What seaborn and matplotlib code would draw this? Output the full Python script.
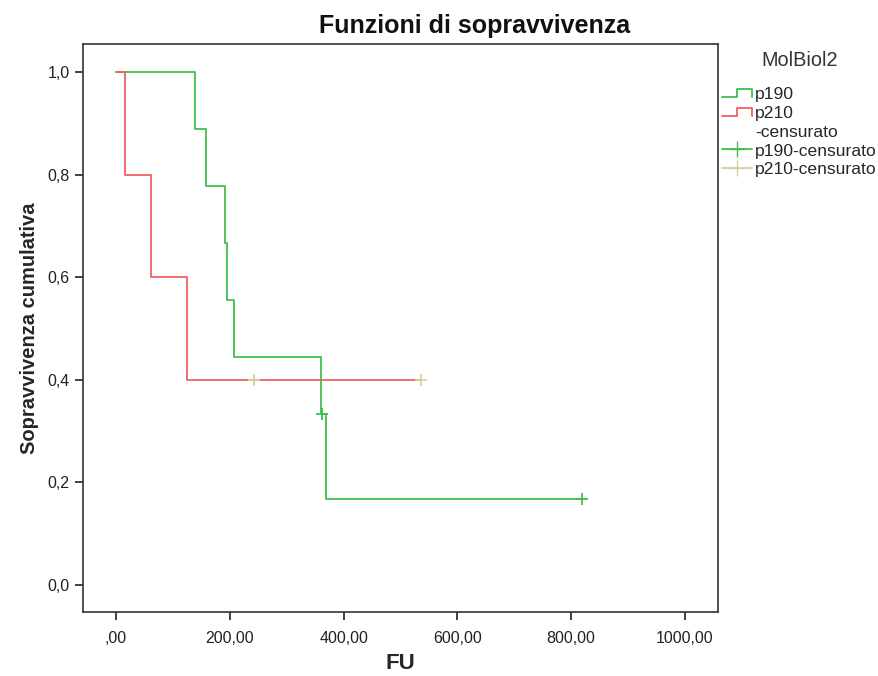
import numpy as np
import pandas as pd
import matplotlib
matplotlib.use("Agg")
import matplotlib.pyplot as plt
import seaborn as sns
from matplotlib.lines import Line2D
from matplotlib.legend_handler import HandlerBase

# ---- data ----
groups = ["p190", "p210"]
p190_times = [139, 158, 192, 195, 207, 360, 362, 369, 819]
p190_event = [1, 1, 1, 1, 1, 1, 0, 1, 0]
p210_times = [16, 61, 125, 242, 536]
p210_event = [1, 1, 1, 0, 0]
x_ticks = [0, 200, 400, 600, 800, 1000]
x_ticklabels = [",00", "200,00", "400,00", "600,00", "800,00", "1000,00"]
y_ticks = [0.0, 0.2, 0.4, 0.6, 0.8, 1.0]
y_ticklabels = ["0,0", "0,2", "0,4", "0,6", "0,8", "1,0"]

colors = {"p190": "#3fbf4f", "p210": "#f06060"}
cens_colors = {"p190": "#3fbf4f", "p210": "#d8cf9c"}


def km(times, events):
    order = np.argsort(times, kind="stable")
    t = np.asarray(times, float)[order]
    e = np.asarray(events)[order]
    n = len(t)
    s = 1.0
    xs, ys = [0.0], [1.0]
    cx, cy = [], []
    for i, (ti, ei) in enumerate(zip(t, e)):
        at_risk = n - i
        if ei:
            s = s * (at_risk - 1) / at_risk
            xs.append(ti); ys.append(s)
        else:
            cx.append(ti); cy.append(s)
    xs.append(t[-1]); ys.append(s)
    return xs, ys, cx, cy


rows, crows = [], []
for g, tt, ee in [("p190", p190_times, p190_event), ("p210", p210_times, p210_event)]:
    xs, ys, cx, cy = km(tt, ee)
    for i, (a, b) in enumerate(zip(xs, ys)):
        rows.append({"FU": a, "S": b, "grp": g, "ord": i})
    for a, b in zip(cx, cy):
        crows.append({"FU": a, "S": b, "grp": g})
df = pd.DataFrame(rows)
cdf = pd.DataFrame(crows)

sns.set_style("white")
plt.rcParams["font.family"] = ["Liberation Sans", "DejaVu Sans"]

fig = plt.figure(figsize=(8.79, 6.76), dpi=100)
ax = fig.add_axes([0.0944, 0.0947, 0.7224, 0.8403])

for g in groups:
    sub = df[df.grp == g]
    sns.lineplot(data=sub, x="FU", y="S", estimator=None, sort=False,
                 drawstyle="steps-post", color=colors[g], lw=1.3, ax=ax,
                 legend=False)
for g in groups:
    sub = cdf[cdf.grp == g]
    sns.scatterplot(data=sub, x="FU", y="S", marker="+", s=80,
                    color=cens_colors[g], linewidth=1.3, ax=ax, legend=False,
                    zorder=5)

ax.set_xlim(-58, 1058)
ax.set_ylim(-0.053, 1.055)
ax.set_xticks(x_ticks)
ax.set_xticklabels(x_ticklabels, fontsize=11.5, color="#222222")
ax.set_yticks(y_ticks)
ax.set_yticklabels(y_ticklabels, fontsize=11.5, color="#222222")
ax.tick_params(axis="both", direction="out", length=6, width=1.3, color="#333333",
               bottom=True, left=True)
ax.tick_params(axis="x", pad=8)
for sp in ax.spines.values():
    sp.set_color("#333333")
    sp.set_linewidth(1.2)

ax.set_xlabel("FU", fontsize=16, fontweight="bold", labelpad=5)
ax.set_ylabel("Sopravvivenza cumulativa", fontsize=14.5, fontweight="bold", labelpad=6)
fig.text(0.54, 0.962, "Funzioni di sopravvivenza", fontsize=18, fontweight="bold",
         ha="center", va="center", color="#111111")


class StepHandler(HandlerBase):
    def create_artists(self, legend, orig_handle, xdescent, ydescent, width,
                       height, fontsize, trans):
        x0 = -xdescent
        y0 = -ydescent
        xs = [x0, x0 + width * 0.5, x0 + width * 0.5, x0 + width, x0 + width]
        ys = [y0 + height * 0.2, y0 + height * 0.2, y0 + height * 0.8,
              y0 + height * 0.8, y0 + height * 0.2]
        ln = Line2D(xs, ys, color=orig_handle.get_color(), lw=1.3,
                    transform=trans)
        return [ln]


class StepHandle:
    def __init__(self, c):
        self.c = c

    def get_color(self):
        return self.c


h1 = StepHandle(colors["p190"])
h2 = StepHandle(colors["p210"])
h3 = Line2D([], [], color="none")
h4 = Line2D([0], [0], color=cens_colors["p190"], marker="+", markersize=12, lw=1.3)
h5 = Line2D([0], [0], color=cens_colors["p210"], marker="+", markersize=12, lw=1.3)
leg = fig.legend([h1, h2, h3, h4, h5],
                 ["p190", "p210", "-censurato", "p190-censurato", "p210-censurato"],
                 handler_map={StepHandle: StepHandler()},
                 title="MolBiol2", loc="upper left",
                 bbox_to_anchor=(0.821, 0.924), frameon=False,
                 fontsize=12.6, title_fontsize=14.3, handlelength=1.75,
                 handletextpad=0.15, labelspacing=0.2, borderaxespad=0,
                 borderpad=0)
leg.get_title().set_color("#333333")
leg._legend_box.sep = 12

fig.savefig("out.png", dpi=100)
